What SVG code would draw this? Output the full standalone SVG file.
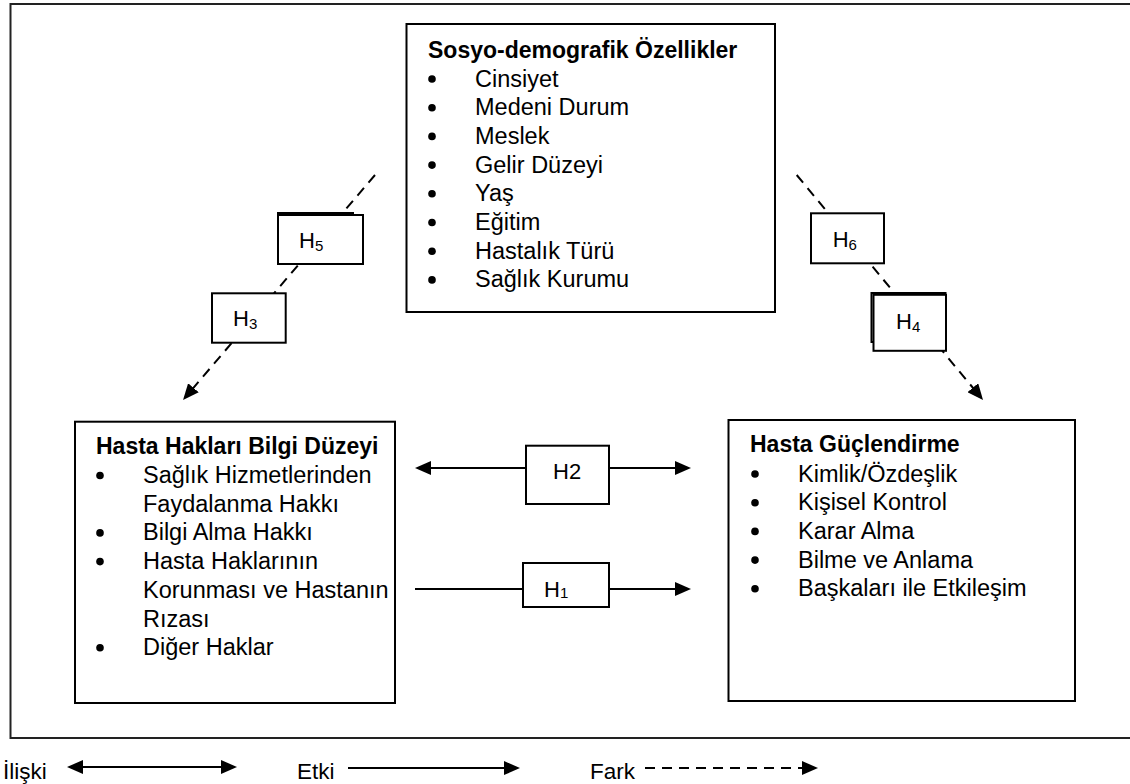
<svg xmlns="http://www.w3.org/2000/svg" width="1130" height="784" viewBox="0 0 1130 784">
  <style>
    .box { fill: #fff; stroke: #000; stroke-width: 2; }
    .frame { fill: none; stroke: #222; stroke-width: 2; }
    .ln { fill: none; stroke: #000; stroke-width: 2; }
    .dash { stroke-dasharray: 10 7; }
    .t { font-family: "Liberation Sans", Arial, sans-serif; font-size: 23.5px; fill: #000; }
    .b { font-weight: bold; font-size: 23px; }
    .h { font-size: 22px; }
    .sub { font-size: 15px; }
    .lg { font-size: 22.5px; }
    .dot { fill: #000; }
  </style>
  <defs>
    <marker id="ah" markerWidth="16" markerHeight="14" refX="13" refY="7" orient="auto-start-reverse" markerUnits="userSpaceOnUse">
      <path d="M0,0 L16,7 L0,14 z" fill="#000"/>
    </marker>
  </defs>

  <rect class="frame" x="10.5" y="4" width="1130" height="734"/>

  <!-- connectors -->
  <g id="connectors">
    <line class="ln dash" x1="375" y1="175" x2="185" y2="397.7" marker-end="url(#ah)"/>
    <line class="ln dash" x1="796.7" y1="175" x2="981.1" y2="397.7" marker-end="url(#ah)"/>
    <line class="ln" x1="418" y1="468" x2="688" y2="468" marker-start="url(#ah)" marker-end="url(#ah)"/>
    <line class="ln" x1="415" y1="589" x2="688" y2="589" marker-end="url(#ah)"/>
  </g>

  <!-- socio-demographic block -->
  <g id="sosyo">
    <rect class="box" x="406.5" y="24" width="368.5" height="288"/>
    <text class="t b" x="428" y="57.5">Sosyo-demografik Özellikler</text>
    <g class="dot">
      <circle cx="432" cy="79" r="3.8"/>
      <circle cx="432" cy="107.7" r="3.8"/>
      <circle cx="432" cy="136.4" r="3.8"/>
      <circle cx="432" cy="165.1" r="3.8"/>
      <circle cx="432" cy="193.8" r="3.8"/>
      <circle cx="432" cy="222.5" r="3.8"/>
      <circle cx="432" cy="251.2" r="3.8"/>
      <circle cx="432" cy="279.9" r="3.8"/>
    </g>
    <text class="t" x="475" y="86.5">Cinsiyet</text>
    <text class="t" x="475" y="115.2">Medeni Durum</text>
    <text class="t" x="475" y="143.9">Meslek</text>
    <text class="t" x="475" y="172.6">Gelir Düzeyi</text>
    <text class="t" x="475" y="201.3">Yaş</text>
    <text class="t" x="475" y="230">Eğitim</text>
    <text class="t" x="475" y="258.7">Hastalık Türü</text>
    <text class="t" x="475" y="287.4">Sağlık Kurumu</text>
  </g>

  <!-- patient rights knowledge block -->
  <g id="bilgi">
    <rect class="box" x="75" y="421.7" width="320" height="281.3"/>
    <text class="t b" x="96" y="454">Hasta Hakları Bilgi Düzeyi</text>
    <g class="dot">
      <circle cx="100" cy="475.5" r="3.8"/>
      <circle cx="100" cy="532.9" r="3.8"/>
      <circle cx="100" cy="561.6" r="3.8"/>
      <circle cx="100" cy="647.7" r="3.8"/>
    </g>
    <text class="t" x="143" y="483">Sağlık Hizmetlerinden</text>
    <text class="t" x="143" y="511.7">Faydalanma Hakkı</text>
    <text class="t" x="143" y="540.4">Bilgi Alma Hakkı</text>
    <text class="t" x="143" y="569.1">Hasta Haklarının</text>
    <text class="t" x="143" y="597.8">Korunması ve Hastanın</text>
    <text class="t" x="143" y="626.5">Rızası</text>
    <text class="t" x="143" y="655.2">Diğer Haklar</text>
  </g>

  <!-- empowerment block -->
  <g id="guclendirme">
    <rect class="box" x="728.5" y="420" width="346.5" height="281"/>
    <text class="t b" x="750" y="452">Hasta Güçlendirme</text>
    <g class="dot">
      <circle cx="755" cy="474" r="3.8"/>
      <circle cx="755" cy="502.7" r="3.8"/>
      <circle cx="755" cy="531.4" r="3.8"/>
      <circle cx="755" cy="560.1" r="3.8"/>
      <circle cx="755" cy="588.8" r="3.8"/>
    </g>
    <text class="t" x="798" y="481.5">Kimlik/Özdeşlik</text>
    <text class="t" x="798" y="510.2">Kişisel Kontrol</text>
    <text class="t" x="798" y="538.9">Karar Alma</text>
    <text class="t" x="798" y="567.6">Bilme ve Anlama</text>
    <text class="t" x="798" y="596.3">Başkaları ile Etkileşim</text>
  </g>

  <!-- hypothesis labels -->
  <g id="h5">
    <rect class="box" x="278" y="213" width="75" height="45"/>
    <rect class="box" x="278" y="215" width="85" height="49"/>
    <text class="t h" x="299" y="248.3">H<tspan class="sub" dy="2.5">5</tspan></text>
  </g>
  <g id="h3">
    <rect class="box" x="212" y="293.3" width="73.7" height="49.4"/>
    <text class="t h" x="233" y="326">H<tspan class="sub" dy="2.5">3</tspan></text>
  </g>
  <g id="h6">
    <rect class="box" x="811" y="213.3" width="73" height="50"/>
    <text class="t h" x="832.7" y="247">H<tspan class="sub" dy="2.5">6</tspan></text>
  </g>
  <g id="h4">
    <rect class="box" x="871.5" y="293" width="74" height="49"/>
    <rect class="box" x="873.5" y="294.8" width="72.5" height="56"/>
    <text class="t h" x="896" y="329.3">H<tspan class="sub" dy="2.5">4</tspan></text>
  </g>
  <g id="h2">
    <rect class="box" x="526" y="445.7" width="83" height="58.3"/>
    <text class="t h" x="553" y="479">H2</text>
  </g>
  <g id="h1">
    <rect class="box" x="523" y="563" width="86" height="44"/>
    <text class="t h" x="544" y="596.5">H<tspan class="sub" font-size="13" dy="1">1</tspan></text>
  </g>

  <!-- legend -->
  <g id="legend">
    <text class="t lg" x="3" y="779">İlişki</text>
    <line class="ln" x1="70" y1="767" x2="234" y2="767" marker-start="url(#ah)" marker-end="url(#ah)"/>
    <text class="t lg" x="297" y="779">Etki</text>
    <line class="ln" x1="348" y1="768" x2="517" y2="768" marker-end="url(#ah)"/>
    <text class="t lg" x="590" y="779">Fark</text>
    <line class="ln dash" x1="645" y1="768" x2="815" y2="768" marker-end="url(#ah)"/>
  </g>
</svg>
